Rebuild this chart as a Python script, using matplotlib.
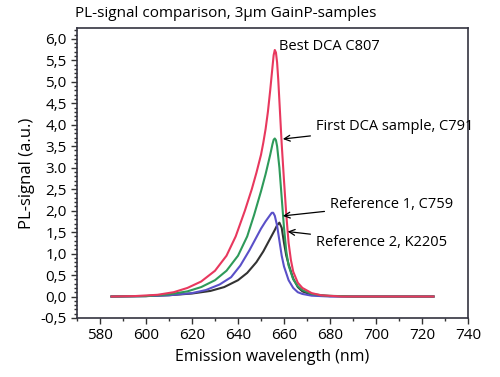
import matplotlib
matplotlib.use("Agg")
import matplotlib.pyplot as plt
from matplotlib.ticker import MultipleLocator

plt.rcParams['font.family'] = ['Open Sans', 'DejaVu Sans']

# emission wavelength (nm) and PL signal (a.u.)
red_wl = [585, 595, 605, 612, 618, 624, 630, 635, 639, 643, 646, 648, 650, 651, 652, 653, 654, 655, 655.5, 656,
          656.5, 657, 657.5, 658, 659, 660, 661, 662, 663, 664, 666, 668, 672, 676, 685, 725]
red_pl = [0.0, 0.01, 0.04, 0.10, 0.20, 0.35, 0.60, 0.95, 1.40, 2.00, 2.50, 2.88, 3.30, 3.58, 3.90, 4.30, 4.80, 5.35, 5.62, 5.74,
          5.68, 5.45, 5.05, 4.55, 3.55, 2.70, 1.90, 1.25, 0.85, 0.58, 0.32, 0.20, 0.08, 0.03, 0.0, 0.0]

green_wl = [585, 600, 610, 618, 624, 630, 635, 640, 644, 647, 650, 652, 654, 655, 655.5, 656,
            656.5, 657, 658, 659, 660, 661, 662, 664, 666, 668, 672, 678, 690, 725]
green_pl = [0.0, 0.01, 0.05, 0.12, 0.22, 0.38, 0.60, 0.95, 1.40, 1.90, 2.45, 2.85, 3.30, 3.55, 3.65, 3.68,
            3.64, 3.50, 3.00, 2.30, 1.60, 1.05, 0.72, 0.40, 0.24, 0.15, 0.06, 0.02, 0.0, 0.0]

blue_wl = [585, 600, 610, 620, 626, 632, 637, 641, 645, 648, 650, 652, 654, 654.7, 655.3,
           656, 657, 658, 659, 660, 662, 664, 666, 668, 672, 680, 725]
blue_pl = [0.0, 0.01, 0.03, 0.08, 0.15, 0.28, 0.45, 0.72, 1.08, 1.38, 1.58, 1.75, 1.90, 1.95, 1.95,
           1.88, 1.65, 1.30, 0.95, 0.70, 0.38, 0.20, 0.10, 0.06, 0.02, 0.0, 0.0]

black_wl = [585, 600, 610, 620, 628, 634, 640, 644, 648, 651, 654, 656, 657, 658,
            659, 660, 661, 662, 664, 666, 668, 672, 680, 690, 725]
black_pl = [0.0, 0.01, 0.03, 0.07, 0.13, 0.22, 0.38, 0.55, 0.80, 1.05, 1.35, 1.55, 1.66, 1.72,
            1.60, 1.25, 0.95, 0.75, 0.42, 0.22, 0.12, 0.04, 0.01, 0.0, 0.0]

x_ticks = [580, 600, 620, 640, 660, 680, 700, 720, 740]
y_ticks = [-0.5, 0.0, 0.5, 1.0, 1.5, 2.0, 2.5, 3.0, 3.5, 4.0, 4.5, 5.0, 5.5, 6.0]
y_labels = ['-0,5', '0,0', '0,5', '1,0', '1,5', '2,0', '2,5', '3.0', '3,5', '4,0', '4,5', '5,0', '5,5', '6,0']

fig = plt.figure(figsize=(5, 3.77), dpi=100)
ax = fig.add_axes([0.154, 0.1565, 0.782, 0.769])

ax.plot(black_wl, black_pl, color='#333333', lw=1.5)
ax.plot(blue_wl, blue_pl, color='#5a50c8', lw=1.5)
ax.plot(green_wl, green_pl, color='#2e9a5a', lw=1.5)
ax.plot(red_wl, red_pl, color='#e8385e', lw=1.5)

ax.set_xlim(570, 740)
ax.set_ylim(-0.5, 6.25)
ax.set_xticks(x_ticks)
ax.set_yticks(y_ticks)
ax.set_yticklabels(y_labels)
ax.xaxis.set_minor_locator(MultipleLocator(10))
ax.yaxis.set_minor_locator(MultipleLocator(0.1))
ax.tick_params(which='major', direction='out', length=4, width=1, labelsize=11, color='#333333')
ax.tick_params(which='minor', direction='out', length=2, width=1, color='#333333')
for s in ax.spines.values():
    s.set_color('#333340')
    s.set_linewidth(1.2)

ax.set_xlabel('Emission wavelength (nm)', fontsize=11.5)
ax.set_ylabel('PL-signal (a.u.)', fontsize=12)
fig.text(0.15, 0.963, 'PL-signal comparison, 3µm GainP-samples', fontsize=11, va='center')

arrow = dict(arrowstyle='->', color='black', lw=0.9)
ax.text(657.8, 5.81, 'Best DCA C807', fontsize=10.5, va='center')
ax.annotate('First DCA sample, C791', xy=(658.3, 3.66), xytext=(673.9, 3.96),
            fontsize=10.5, va='center', arrowprops=arrow)
ax.annotate('Reference 1, C759', xy=(658.3, 1.87), xytext=(680, 2.15),
            fontsize=10.5, va='center', arrowprops=arrow)
ax.annotate('Reference 2, K2205', xy=(660.4, 1.52), xytext=(673.9, 1.26),
            fontsize=10.5, va='center', arrowprops=arrow)

fig.savefig('out.png', dpi=100)
